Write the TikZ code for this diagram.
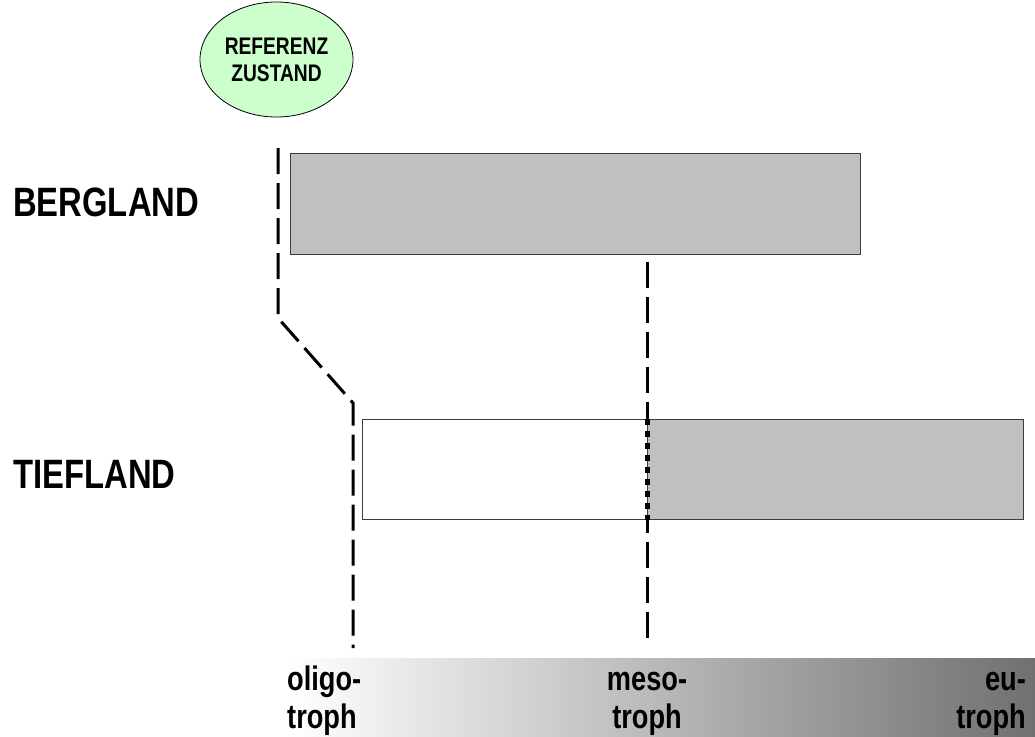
\documentclass[tikz,border=0pt]{standalone}
\usepackage{fontspec}
\newfontfamily\nar[FakeStretch=0.8]{Liberation Sans}
\usetikzlibrary{shapes.geometric}
\definecolor{refgreen}{RGB}{204,255,204}
\definecolor{boxgray}{RGB}{192,192,192}
\definecolor{edgegray}{RGB}{60,60,60}
\definecolor{gmid}{RGB}{210,210,210}
\definecolor{gright}{RGB}{112,112,112}
\begin{document}
\begin{tikzpicture}[x=1pt,y=-1pt,
  lbl/.style={font=\nar\bfseries\fontsize{41}{41}\selectfont, inner sep=0pt, anchor=west},
  scl/.style={font=\nar\bfseries\fontsize{34}{34}\selectfont, inner sep=0pt},
  longdash/.style={line width=3pt, dash pattern=on 26pt off 9pt},
  barbox/.style={draw=edgegray, line width=1pt}]
\useasboundingbox (0,0) rectangle (1035,736);
% gradient scale
\shade[left color=white, middle color=gmid, right color=gright] (290,658) rectangle (1035,736);
% ellipse
\node[ellipse, draw=black, line width=0.8pt, fill=refgreen, minimum width=153pt, minimum height=115pt, inner sep=0pt,
  align=center, font=\nar\bfseries\fontsize{24}{27}\selectfont] (ref) at (276.5,59.5) {REFERENZ\\ZUSTAND};
% row labels
\node[lbl] (berg) at (13,202) {BERGLAND};
\node[lbl] (tief) at (13,474) {TIEFLAND};
% dashed guide lines
\coordinate (l1) at (278,148);
\coordinate (l2) at (278,318);
\coordinate (l3) at (353,403);
\coordinate (l4) at (353,648);
\draw[longdash] (l1) -- (l2) -- (l3) -- (l4);
\coordinate (m1) at (647,262);
\coordinate (m2) at (647,645);
\draw[longdash] (m1) -- (m2);
% boxes
\node[barbox, fill=boxgray, anchor=north west, minimum width=570pt, minimum height=101pt, inner sep=0pt] (bbox) at (290,153) {};
\node[barbox, fill=white, anchor=north west, minimum width=285pt, minimum height=100pt, inner sep=0pt] (tw) at (362,419) {};
\node[barbox, fill=boxgray, anchor=north west, minimum width=376pt, minimum height=100pt, inner sep=0pt] (tg) at (647,419) {};
\draw[line width=5pt, dash pattern=on 6pt off 6pt] (tg.north west) -- (tg.south west);
% scale labels
\node[scl, anchor=base west] (o1) at (287,690) {oligo-};
\node[scl, anchor=base west] (o2) at (287,728) {troph};
\node[scl, anchor=base] (me1) at (647,690) {meso-};
\node[scl, anchor=base] (me2) at (647,728) {troph};
\node[scl, anchor=base east] (e1) at (1026,690) {eu-};
\node[scl, anchor=base east] (e2) at (1026,728) {troph};
\end{tikzpicture}
\end{document}
